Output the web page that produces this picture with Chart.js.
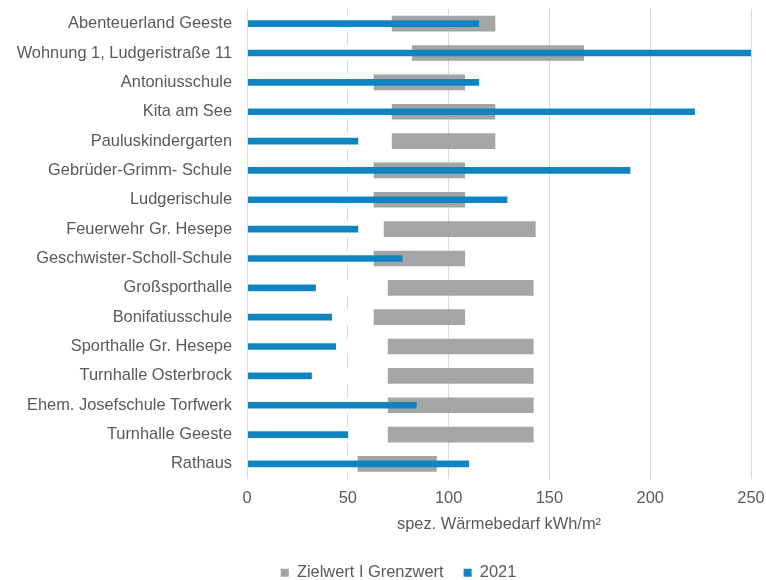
<!DOCTYPE html>
<html><head><meta charset="utf-8">
<script src="https://cdn.jsdelivr.net/npm/chart.js@4.4.0/dist/chart.umd.min.js"></script>
<style>html,body{margin:0;padding:0;background:#fff}</style>
</head><body>
<canvas id="c" width="766" height="580"></canvas>
<script>
const categories = [
  'Abenteuerland Geeste',
  'Wohnung 1, Ludgeristraße 11',
  'Antoniusschule',
  'Kita am See',
  'Pauluskindergarten',
  'Gebrüder-Grimm- Schule',
  'Ludgerischule',
  'Feuerwehr Gr. Hesepe',
  'Geschwister-Scholl-Schule',
  'Großsporthalle',
  'Bonifatiusschule',
  'Sporthalle Gr. Hesepe',
  'Turnhalle Osterbrock',
  'Ehem. Josefschule Torfwerk',
  'Turnhalle Geeste',
  'Rathaus'
];
const zielwert  = [72, 82, 63, 72, 72, 63, 63, 68, 63, 70, 63, 70, 70, 70, 70, 55];
const grenzwert = [123, 167, 108, 123, 123, 108, 108, 143, 108, 142, 108, 142, 142, 142, 142, 94];
const value2021 = [115, 250, 115, 222, 55, 190, 129, 55, 77, 34, 42, 44, 32, 84, 50, 110];
const xMin = 0, xMax = 250, xStep = 50;
const seriesLabels = ['Zielwert I Grenzwert', '2021'];
const axisTitle = 'spez. Wärmebedarf kWh/m²';

const textColor = '#595959';
const font = {family: "'Liberation Sans', Arial, sans-serif", size: 16.4};
Chart.defaults.font.family = font.family;
Chart.defaults.font.size = 16.4;

const noLabelClip = {
  id: 'noLabelClip',
  afterLayout(chart) { chart.scales.y._computeLabelArea = () => undefined; }
};

new Chart(document.getElementById('c'), {
  type: 'bar',
  data: {
    labels: categories,
    datasets: [
      {label: '_base', data: zielwert, backgroundColor: '#ffffff', barThickness: 15, grouped: false, order: 2},
      {label: seriesLabels[0], data: zielwert.map((z, i) => [z, grenzwert[i]]), backgroundColor: '#a5a5a5', barThickness: 15, grouped: false, order: 1},
      {label: seriesLabels[1], data: value2021, backgroundColor: '#0f84c1', barThickness: 6, grouped: false, order: 0}
    ]
  },
  plugins: [noLabelClip],
  options: {
    indexAxis: 'y',
    responsive: false,
    animation: false,
    devicePixelRatio: 1,
    layout: {padding: {left: 46, right: 15, top: 9, bottom: -11}},
    scales: {
      x: {
        min: xMin, max: xMax,
        ticks: {stepSize: xStep, color: textColor, font: font, padding: 10},
        grid: {color: ctx => (ctx.tick && ctx.tick.value === 0) ? 'rgba(0,0,0,0)' : '#d9d9d9', drawTicks: false},
        border: {display: false},
        title: {display: true, text: axisTitle, color: textColor, font: font, padding: {top: 0, bottom: 10}},
        afterFit: s => { s.height = 66; s.paddingLeft = 0; s.paddingRight = 0; }
      },
      y: {
        grid: {display: false, drawTicks: false},
        border: {display: true, color: '#d9d9d9', z: 1},
        ticks: {color: textColor, font: font, padding: 15, autoSkip: false},
        afterFit: s => { s.width = 201; s.paddingTop = 0; s.paddingBottom = 0; }
      }
    },
    plugins: {
      tooltip: {enabled: false},
      legend: {
        position: 'bottom',
        labels: {
          color: textColor, font: font, boxWidth: 8, boxHeight: 8, padding: 20,
          filter: item => item.text !== '_base',
          sort: (a, b) => a.datasetIndex - b.datasetIndex
        }
      }
    }
  }
});
</script>
</body></html>
